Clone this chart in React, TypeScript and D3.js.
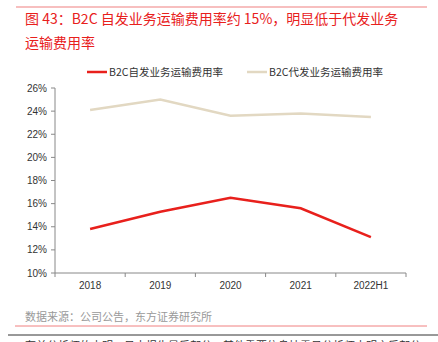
import React from "react";
import * as d3 from "d3";

const categories = ["2018", "2019", "2020", "2021", "2022H1"];
const selfRate = [13.8, 15.3, 16.5, 15.6, 13.1];
const agentRate = [24.1, 25.0, 23.6, 23.8, 23.5];
const yTicks = [10, 12, 14, 16, 18, 20, 22, 24, 26];
const seriesNames = ["B2C自发业务运输费用率", "B2C代发业务运输费用率"];
const colors = ["#e8201c", "#e2d8c2"];

const W = 438, H = 342;
const left = 55, right = 406, top = 88, bottom = 273;

export default function App() {
  const x = d3.scaleBand<string>().domain(categories).range([left, right]);
  const y = d3.scaleLinear().domain([10, 26]).range([bottom, top]);
  const line = d3
    .line<number>()
    .x((_, i) => (x(categories[i]) as number) + x.bandwidth() / 2)
    .y((d) => y(d));
  const font = "'Liberation Sans', Arial, sans-serif";
  const cjk = "'Noto Sans CJK SC', sans-serif";
  const ticksX = categories.map((c) => x(c) as number).concat([right]);
  return (
    <svg width={W} height={H} style={{ position: "absolute", left: 0, top: 0 }}>
      <rect width={W} height={H} fill="#fff" />
      <line x1={16} x2={427} y1={7} y2={7} stroke="#f08080" strokeWidth={1.2} />
      <text x={25} y={24} fontFamily={cjk} fontSize={14} fill="#e8201c">
        图 43：B2C 自发业务运输费用率约 15%，明显低于代发业务
      </text>
      <text x={25} y={48} fontFamily={cjk} fontSize={14} fill="#e8201c">
        运输费用率
      </text>
      {/* legend */}
      <line x1={87} x2={107} y1={72} y2={72} stroke={colors[0]} strokeWidth={2.5} />
      <text x={109} y={76} fontFamily={cjk} fontSize={10.5} fill="#333">{seriesNames[0]}</text>
      <line x1={247} x2={267} y1={72} y2={72} stroke={colors[1]} strokeWidth={2.5} />
      <text x={269} y={76} fontFamily={cjk} fontSize={10.5} fill="#333">{seriesNames[1]}</text>
      {/* y axis */}
      <line x1={left} x2={left} y1={top} y2={bottom} stroke="#888" />
      {yTicks.map((t) => (
        <g key={t}>
          <line x1={left - 4} x2={left} y1={y(t)} y2={y(t)} stroke="#888" />
          <text x={47} y={y(t) + 3.5} textAnchor="end" fontFamily={font} fontSize={10} fill="#333">
            {t}%
          </text>
        </g>
      ))}
      {/* x axis */}
      <line x1={left} x2={right} y1={bottom} y2={bottom} stroke="#888" />
      {ticksX.map((t, i) => (
        <line key={i} x1={t} x2={t} y1={bottom} y2={bottom + 4} stroke="#888" />
      ))}
      {categories.map((c) => (
        <text key={c} x={(x(c) as number) + x.bandwidth() / 2} y={289} textAnchor="middle" fontFamily={font} fontSize={10} fill="#333">
          {c}
        </text>
      ))}
      <path d={line(agentRate) || ""} fill="none" stroke={colors[1]} strokeWidth={2.5} />
      <path d={line(selfRate) || ""} fill="none" stroke={colors[0]} strokeWidth={2.5} />
      {/* footer */}
      <text x={25} y={321} fontFamily={cjk} fontSize={11} fill="#999">数据来源：公司公告，东方证券研究所</text>
      <line x1={15} x2={427} y1={326} y2={326} stroke="#f08080" strokeWidth={1} />
      <line x1={8} x2={438} y1={335} y2={335} stroke="#333" strokeWidth={1} />
      <text x={25} y={350} fontFamily={cjk} fontSize={11} fill="#333">有关分析师的申明，见本报告最后部分。其他重要信息披露见分析师申明之后部分</text>
    </svg>
  );
}
